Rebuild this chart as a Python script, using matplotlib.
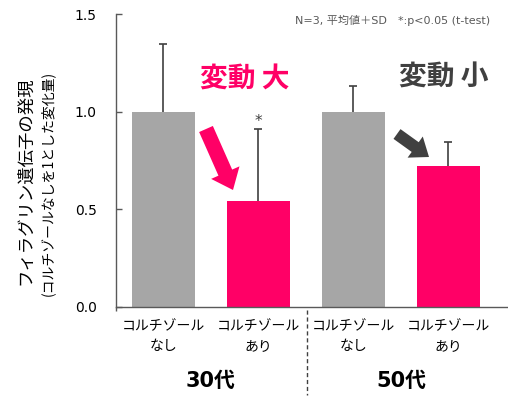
import matplotlib
matplotlib.use("Agg")
import matplotlib.pyplot as plt
import matplotlib.patches as mpatches
import matplotlib.transforms as mtransforms
from matplotlib.lines import Line2D

plt.rcParams['font.family'] = ['DejaVu Sans', 'Noto Sans CJK JP']

categories = ["コルチゾール\nなし", "コルチゾール\nあり", "コルチゾール\nなし", "コルチゾール\nあり"]
means = [1.0, 0.543, 1.0, 0.722]
sds = [0.347, 0.368, 0.130, 0.123]
colors = ["#A6A6A6", "#FF0066", "#A6A6A6", "#FF0066"]
groups = ["30代", "50代"]
yticks = [0.0, 0.5, 1.0, 1.5]

W, H = 508, 397
fig = plt.figure(figsize=(W / 100, H / 100), dpi=100)
ax = fig.add_axes([116 / W, 1 - 307 / H, (507 - 116) / W, (307 - 14) / H])

x = list(range(len(means)))
ax.errorbar(x, means, yerr=sds, fmt='none', ecolor='#404040', elinewidth=1.2,
            capsize=3, capthick=1.2, zorder=1)
ax.bar(x, means, width=0.66, color=colors, zorder=2)

ax.set_xlim(-0.5, 3.616)
ax.set_ylim(0, 1.5)
ax.set_yticks(yticks)
ax.set_yticklabels([f"{v:.1f}" for v in yticks])
ax.tick_params(axis='y', direction='in', length=4, width=1, color='#595959',
               pad=14, labelsize=10, labelcolor='#000000')
ax.set_xticks(x)
ax.set_xticklabels(categories, family=['Noto Sans CJK JP'], fontsize=10,
                   linespacing=1.5)
ax.tick_params(axis='x', length=0, pad=9)
ax.set_xticks([-0.5], minor=True)
ax.tick_params(axis='x', which='minor', direction='out', length=3, width=1, color='#595959')
for s in ['top', 'right']:
    ax.spines[s].set_visible(False)
for s in ['left', 'bottom']:
    ax.spines[s].set_color('#595959')
    ax.spines[s].set_linewidth(1.0)

# asterisk
ax.text(1, means[1] + sds[1] + 0.0, "*", ha='center', va='bottom', fontsize=11, color='#404040')

# group labels
trans = mtransforms.blended_transform_factory(ax.transData, fig.transFigure)
ax.text(0.5, 1 - 381 / H, groups[0], transform=trans, ha='center', va='center',
        fontsize=15, fontweight='bold', color='#000000')
ax.text(2.5, 1 - 381 / H, groups[1], transform=trans, ha='center', va='center',
        fontsize=15, fontweight='bold', color='#000000')

# separator
fig.add_artist(Line2D([307 / W, 307 / W], [1 - 310 / H, 1 - 395 / H], transform=fig.transFigure,
                      color='#404040', linewidth=1.0, linestyle=(0, (3, 2))))

# y labels
fig.text(25 / W, 1 - 181 / H, "フィラグリン遺伝子の発現", rotation=90, ha='center', va='center',
         fontsize=12.5, family=['Noto Sans CJK JP'])
fig.text(48 / W, 1 - 183 / H, "(コルチゾールなしを1とした変化量)", rotation=90, ha='center', va='center',
         fontsize=10, family=['Noto Sans CJK JP'])

# note
fig.text(490 / W, 1 - 20 / H, "N=3, 平均値＋SD　*:p<0.05 (t-test)", ha='right', va='center',
         fontsize=8, color='#595959')

# annotations
fig.text(245 / W, 1 - 80 / H, "変動 大", ha='center', va='center', fontsize=20,
         fontweight='bold', color='#FF0066', family=['Noto Sans CJK JP'])
fig.text(444 / W, 1 - 78 / H, "変動 小", ha='center', va='center', fontsize=20,
         fontweight='bold', color='#404040', family=['Noto Sans CJK JP'])

def arrow(x0, y0, x1, y1, w, hw, hl, c):
    a = mpatches.FancyArrow(x0 / 100, (H - y0) / 100, (x1 - x0) / 100, -(y1 - y0) / 100,
                            width=w / 100, head_width=hw / 100, head_length=hl / 100,
                            length_includes_head=True, color=c, transform=fig.dpi_scale_trans,
                            linewidth=0)
    fig.add_artist(a)

arrow(206, 129, 233, 190, 15, 31, 19, '#FF0066')
arrow(397, 134, 429, 157, 12, 26, 17, '#404040')

fig.savefig("out.png", dpi=100)
